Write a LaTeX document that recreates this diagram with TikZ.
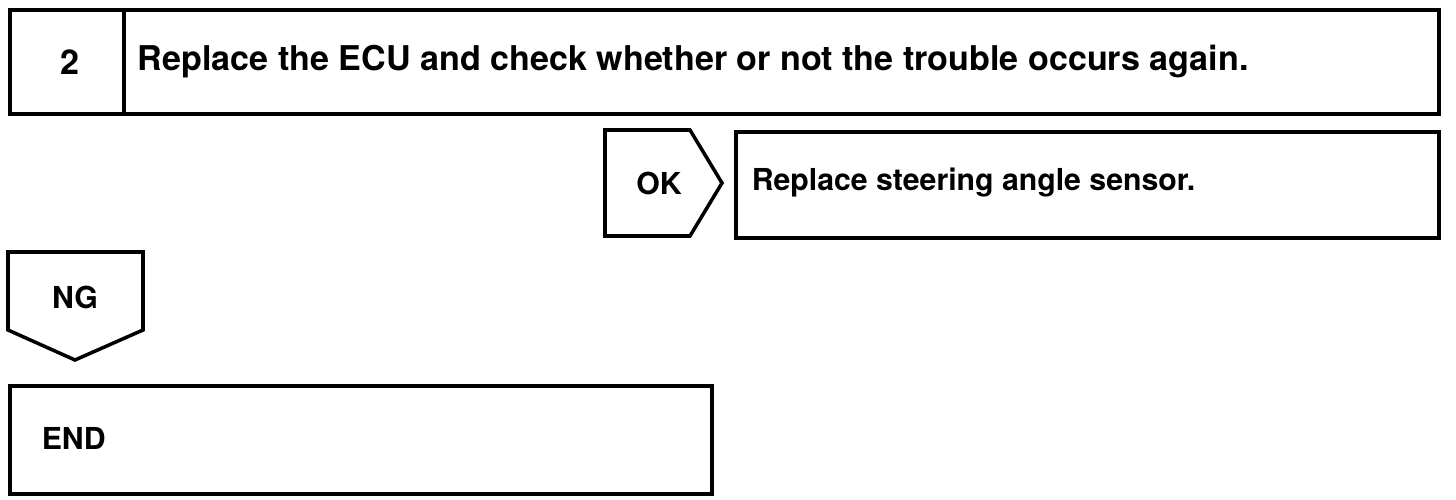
\documentclass[tikz,border=0pt]{standalone}
\usepackage{fontspec}
\setmainfont{TeX Gyre Heros}
\usetikzlibrary{positioning}

\begin{document}
\begin{tikzpicture}[x=0.01cm, y=-0.01cm, line width=1pt,
    box/.style={draw, rectangle, inner sep=0pt, anchor=north west},
    big/.style={font=\bfseries\fontsize{9.7}{11}\selectfont},
    small/.style={font=\bfseries\fontsize{8.6}{10}\selectfont}]
    \useasboundingbox (0, 0) rectangle (1456, 500);

    % step box
    \node[box, minimum width=114*0.01cm, minimum height=104*0.01cm] (num) at (8, 8) {};
    \node[box, minimum width=1315*0.01cm, minimum height=104*0.01cm] (step) at (122, 8) {};
    \node[big] (numtext) at (70, 62) {2};
    \node[big, anchor=west, inner sep=0pt] (steptext) at (136, 62) {Replace the ECU and check whether or not the trouble occurs again.};

    % OK branch
    \draw (605, 130) -- (690, 130) -- (722, 183) -- (690, 236) -- (605, 236) -- cycle;
    \node[small] (ok) at (659, 183) {OK};
    \node[box, minimum width=703*0.01cm, minimum height=106*0.01cm] (repl) at (734, 130) {};
    \node[small, anchor=west, inner sep=0pt] (repltext) at (750, 183) {Replace steering angle sensor.};

    % NG branch
    \draw (8, 252) -- (143, 252) -- (143, 330) -- (75, 360) -- (8, 330) -- cycle;
    \node[small] (ng) at (75, 297) {NG};
    \node[box, minimum width=702*0.01cm, minimum height=108*0.01cm] (end) at (8, 384) {};
    \node[small, anchor=west, inner sep=0pt] (endtext) at (40, 438) {END};

\end{tikzpicture}
\end{document}
